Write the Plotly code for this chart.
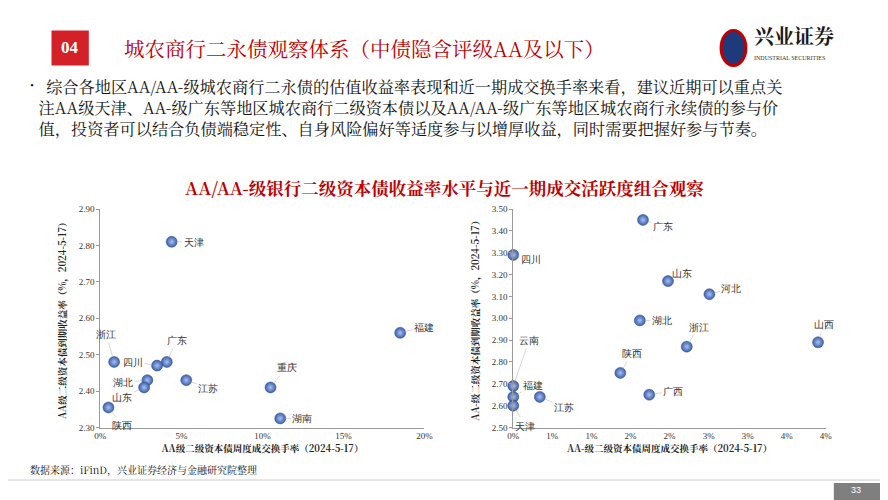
import plotly.graph_objects as go

# AA级
aa_names = ['天津', '福建', '浙江', '广东', '四川', '湖北', '江苏', '山东', '重庆', '陕西', '湖南']
aa_turnover = [4.4, 18.5, 0.85, 4.1, 3.5, 2.9, 5.3, 2.7, 10.5, 0.5, 11.1]
aa_yield = [2.81, 2.56, 2.48, 2.48, 2.47, 2.43, 2.43, 2.41, 2.41, 2.355, 2.325]

# AA-级
aam_names = ['广东', '四川', '山东', '河北', '湖北', '浙江', '山西', '陕西', '广西', '江苏', '云南', '福建', '天津']
aam_turnover = [1.66, 0.0, 1.98, 2.51, 1.62, 2.22, 3.90, 1.37, 1.74, 0.34, 0.0, 0.0, 0.0]
aam_yield = [3.45, 3.29, 3.17, 3.11, 2.99, 2.87, 2.89, 2.75, 2.65, 2.64, 2.69, 2.64, 2.60]

# 标签偏移（像素）
aa_off = [(22, 0), (24, -6), (-8, -28), (10, -22), (-24, -4), (-24, 2), (22, 8), (-22, 10), (16, -20), (14, 18), (22, 0)]
aam_off = [(20, 6), (18, 4), (14, -8), (22, -6), (22, 0), (12, -20), (6, -18), (12, -20), (24, -4), (24, 10), (16, -46), (20, -12), (12, 20)]

font = 'Noto Serif CJK SC, Noto Sans CJK SC, serif'
marker = dict(size=11, color='#3a5fae', gradient=dict(type='radial', color='#a9c0ee'),
              line=dict(color='#2c4a8a', width=0.5))

fig = go.Figure()
fig.add_trace(go.Scatter(x=aa_turnover, y=aa_yield, mode='markers', marker=marker,
                         xaxis='x', yaxis='y', showlegend=False, cliponaxis=False))
fig.add_trace(go.Scatter(x=aam_turnover, y=aam_yield, mode='markers', marker=marker,
                         xaxis='x2', yaxis='y2', showlegend=False, cliponaxis=False))

ann = []
for n, x, y, (dx, dy) in zip(aa_names, aa_turnover, aa_yield, aa_off):
    ann.append(dict(x=x, y=y, xref='x', yref='y', text=n, ax=dx, ay=dy, showarrow=True,
                    arrowhead=0, arrowwidth=0.6, arrowcolor='#bbbbbb', standoff=5,
                    font=dict(size=10, color='#333')))
for n, x, y, (dx, dy) in zip(aam_names, aam_turnover, aam_yield, aam_off):
    ann.append(dict(x=x, y=y, xref='x2', yref='y2', text=n, ax=dx, ay=dy, showarrow=True,
                    arrowhead=0, arrowwidth=0.6, arrowcolor='#bbbbbb', standoff=5,
                    font=dict(size=10, color='#333')))


def note(x, y, text, size, color='#111', fam=font, xa='center', ya='middle', **kw):
    return dict(x=x, y=y, xref='paper', yref='paper', text=text, showarrow=False,
                xanchor=xa, yanchor=ya, font=dict(size=size, color=color, family=fam), **kw)


# 页面文字
ann += [
    note(0.07, 0.92, '<b>04</b>', 17, 'white', 'Liberation Serif'),
    note(0.128, 0.92, '城农商行二永债观察体系（中债隐含评级AA及以下）', 20.5, '#c00000', xa='left'),
    note(0.838, 0.945, '<b>兴业证券</b>', 20, '#1a1a1a', xa='left'),
    note(0.838, 0.9, 'INDUSTRIAL SECURITIES', 6, '#333', 'Liberation Serif', xa='left'),
    note(0.013, 0.88,
         '<span style="font-size:20px">•</span> 综合各地区AA/AA-级城农商行二永债的估值收益率表现和近一期成交换手率来看，建议近期可以重点关<br>'
         '    注AA级天津、AA-级广东等地区城农商行二级资本债以及AA/AA-级广东等地区城农商行永续债的参与价<br>'
         '    值，投资者可以结合负债端稳定性、自身风险偏好等适度参与以增厚收益，同时需要把握好参与节奏。',
         16.2, xa='left', ya='top', align='left'),
    note(0.491, 0.642, '<b>AA/AA-级银行二级资本债收益率水平与近一期成交活跃度组合观察</b>', 17.5, '#c00000'),
    note(0.023, 0.078, '数据来源：iFinD，兴业证券经济与金融研究院整理', 10, xa='left'),
    note(0.955, 0.036, '33', 9, 'white', 'Liberation Sans'),
]

axfont = dict(size=9, color='#333', family='Liberation Serif')
tfont = dict(size=9.5, color='#222', family=font)
fig.update_layout(
    width=888, height=500, margin=dict(l=0, r=0, t=0, b=0, autoexpand=False),
    paper_bgcolor='white', plot_bgcolor='white',
    annotations=ann,
    shapes=[
        dict(type='rect', xref='paper', yref='paper', x0=0.049, x1=0.091, y0=0.885, y1=0.955,
             fillcolor='#d42027', line=dict(width=0)),
        dict(type='circle', xref='paper', yref='paper', x0=0.803, x1=0.831, y0=0.885, y1=0.955,
             fillcolor='#1f3a7a', line=dict(color='#c00000', width=3)),
        dict(type='line', xref='paper', yref='paper', x0=0, x1=1, y0=0.056, y1=0.056,
             line=dict(color='#cccccc', width=1)),
        dict(type='rect', xref='paper', yref='paper', x0=0.93, x1=1, y0=0.016, y1=0.05,
             fillcolor='#7f7f7f', line=dict(width=0)),
    ],
    xaxis=dict(domain=[0.104, 0.469], range=[0, 20], tickvals=[0, 5, 10, 15, 20],
               ticktext=['0%', '5%', '10%', '15%', '20%'], showgrid=False, zeroline=False,
               showline=True, linecolor='#999', tickfont=axfont, anchor='y', automargin=False,
               title=dict(text='<b>AA级二级资本债周度成交换手率（2024-5-17）</b>', font=tfont, standoff=4)),
    yaxis=dict(domain=[0.161, 0.598], range=[2.3, 2.9], dtick=0.1, tickformat='.2f',
               showgrid=False, zeroline=False, showline=True, linecolor='#999', automargin=False,
               ticks='outside', ticklen=3, tickcolor='#999', tickfont=axfont, anchor='x',
               title=dict(text='<b>AA级二级资本债到期收益率（%，2024-5-17）</b>', font=tfont, standoff=10)),
    xaxis2=dict(domain=[0.569, 0.921], range=[0, 4], tickvals=[0, 0.5, 1, 1.5, 2, 2.5, 3, 3.5, 4],
                ticktext=['0%', '1%', '1%', '2%', '2%', '3%', '3%', '4%', '4%'], showgrid=False,
                zeroline=False, showline=True, linecolor='#999', tickfont=axfont, anchor='y2',
                automargin=False,
                title=dict(text='<b>AA-级二级资本债周度成交换手率（2024-5-17）</b>', font=tfont, standoff=4)),
    yaxis2=dict(domain=[0.161, 0.598], range=[2.5, 3.5], dtick=0.1, tickformat='.2f',
                showgrid=False, zeroline=False, showline=True, linecolor='#999', automargin=False,
                ticks='outside', ticklen=3, tickcolor='#999', tickfont=axfont, anchor='x2',
                title=dict(text='<b>AA-级二级资本债到期收益率（%，2024-5-17）</b>', font=tfont, standoff=10)),
)
fig.write_html("out.html")
